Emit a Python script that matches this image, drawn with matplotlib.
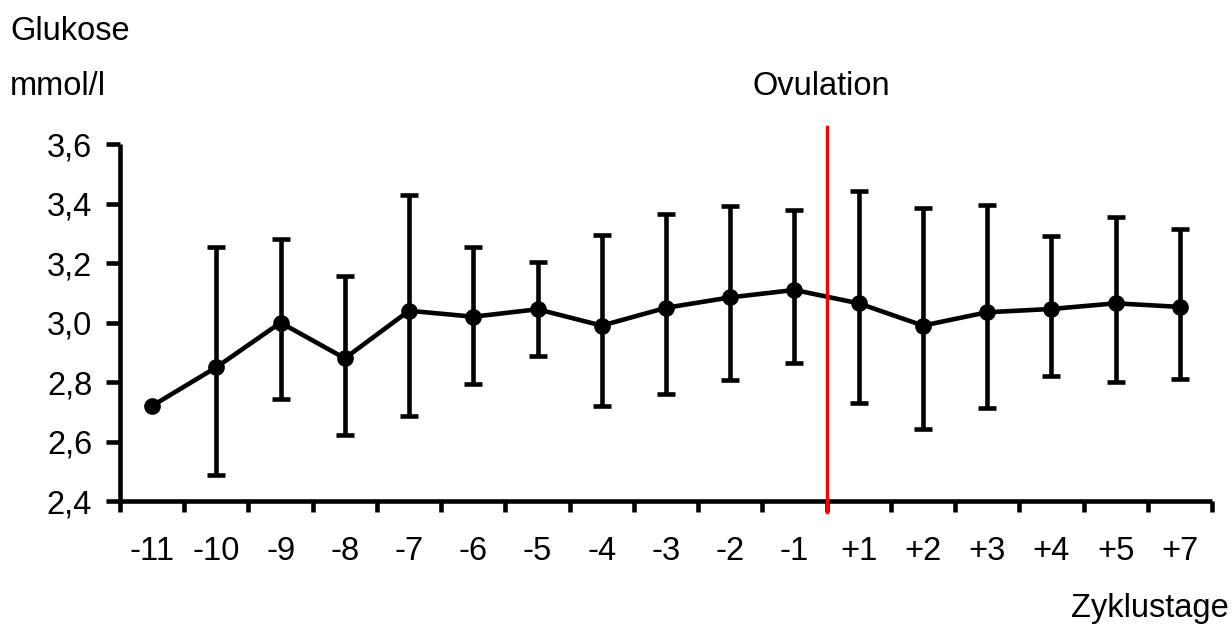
import numpy as np
import matplotlib
matplotlib.use("Agg")
import matplotlib.pyplot as plt
from matplotlib.ticker import FixedLocator, FuncFormatter

plt.rcParams['font.family'] = ['Liberation Sans', 'DejaVu Sans']

# cycle days and mean glucose with upper / lower error ends (mmol/l)
days = ["-11", "-10", "-9", "-8", "-7", "-6", "-5", "-4", "-3", "-2", "-1",
        "+1", "+2", "+3", "+4", "+5", "+7"]
glucose = [2.72, 2.85, 3.00, 2.88, 3.04, 3.02, 3.045, 2.99, 3.05, 3.085, 3.11,
           3.065, 2.99, 3.035, 3.046, 3.065, 3.053]
upper = [2.72, 3.254, 3.281, 3.157, 3.429, 3.254, 3.204, 3.294, 3.365, 3.393, 3.379,
         3.442, 3.385, 3.397, 3.291, 3.355, 3.314]
lower = [2.72, 2.489, 2.744, 2.622, 2.687, 2.794, 2.889, 2.720, 2.761, 2.806, 2.863,
         2.729, 2.643, 2.712, 2.821, 2.802, 2.810]
yticks = [2.4, 2.6, 2.8, 3.0, 3.2, 3.4, 3.6]

x = np.arange(len(days))
g = np.array(glucose)
err = [g - np.array(lower), np.array(upper) - g]

FS = 23.5
LW = 3.3

W, H = 1232, 628
fig = plt.figure(figsize=(W / 100, H / 100), dpi=100)
ax = fig.add_axes([120 / W, 1 - 501 / H, 1092 / W, (501 - 144.3) / H])

# error bars without the first point (no spread there)
eb = ax.errorbar(x[1:], g[1:], yerr=[e[1:] for e in err], fmt='none', ecolor='black',
                 elinewidth=LW, capsize=6.2, capthick=LW, zorder=2)
for cap in eb[1]:
    cap.set_solid_capstyle('round')
ax.plot(x, g, color='black', lw=LW, marker='o', markersize=11, zorder=3,
        solid_joinstyle='round')

# ovulation marker between -1 and +1
ax.plot([10.5, 10.5], [2.364, 3.657], color='#ff0000', lw=2.4, clip_on=False, zorder=4)

ax.set_xlim(-0.5, len(days) - 0.5)
ax.set_ylim(2.4, 3.6)
for s in ['top', 'right']:
    ax.spines[s].set_visible(False)
for s in ['left', 'bottom']:
    ax.spines[s].set_linewidth(LW)
    ax.spines[s].set_capstyle('butt')

ax.xaxis.set_major_locator(FixedLocator(np.arange(-0.5, len(days), 1.0)))
ax.xaxis.set_minor_locator(FixedLocator(x))
ax.set_xticklabels([])
ax.set_xticklabels(days, minor=True)
ax.tick_params(axis='x', which='major', direction='out', length=8, width=LW)
ax.tick_params(axis='x', which='minor', length=0, pad=25, labelsize=FS)

ax.set_yticks(yticks)
ax.yaxis.set_major_formatter(FuncFormatter(lambda v, p: f"{v:.1f}".replace('.', ',')))
ax.tick_params(axis='y', direction='out', length=10, width=LW, pad=10, labelsize=FS)

fig.text(10 / W, 1 - 40 / H, "Glukose", fontsize=FS, va='baseline', ha='left')
fig.text(10 / W, 1 - 95 / H, "mmol/l", fontsize=FS, va='baseline', ha='left')
fig.text(753 / W, 1 - 95 / H, "Ovulation", fontsize=FS, va='baseline', ha='left')
fig.text(1229 / W, 1 - 617 / H, "Zyklustage", fontsize=FS, va='baseline', ha='right')

fig.savefig("out.png", dpi=100)
